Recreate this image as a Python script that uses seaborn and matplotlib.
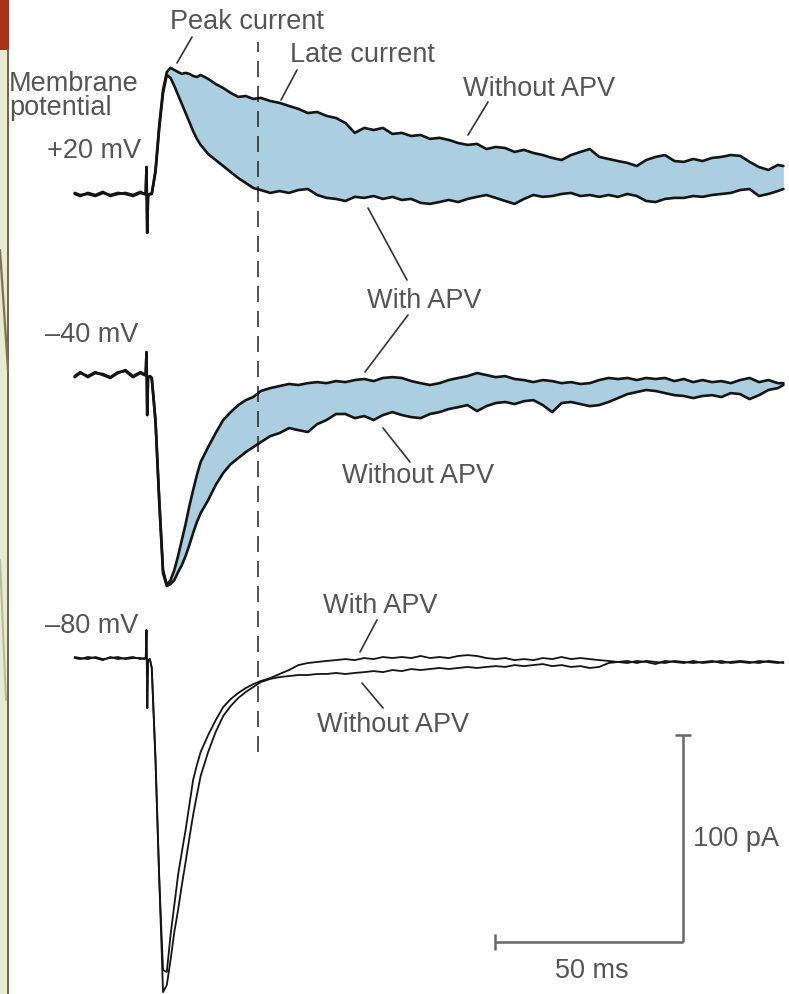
import numpy as np
import pandas as pd
import matplotlib
matplotlib.use("Agg")
import matplotlib.pyplot as plt
from matplotlib.patches import Rectangle
from matplotlib.lines import Line2D
import seaborn as sns

# ------------------------------------------------------------------ data
# time after the synaptic stimulus (ms)
TIME_MS = [-19.5, -18, -16, -14, -12, -10, -8, -6, -4, -2, -1, -0.6, -0.4, -0.2, 0, 0.5,
           1, 2, 3, 4, 5, 6, 7, 8, 9, 10, 11, 12, 13, 14, 16, 18, 20, 22, 24, 26, 28, 30,
           32.5, 35, 37.5, 40, 42.5, 45, 47.5, 50, 52.5, 55, 57.5, 60, 62.5, 65, 67.5, 70,
           72.5, 75, 77.5, 80, 82.5, 85, 87.5, 90, 92.5, 95, 97.5, 100, 102.5, 105, 107.5,
           110, 112.5, 115, 117.5, 120, 122.5, 125, 127.5, 130, 132.5, 135, 137.5, 140,
           142.5, 145, 147.5, 150, 152.5, 155, 157.5, 160, 162.5, 165, 167.5, 169]

# synaptic current relative to the holding baseline (pA)
PLUS20_WITHOUT_APV = [0, -1.0, 0.5, -0.5, 1.0, -1.0, 0, 0.5, -0.5, 1.0, 0, 0, 13.0, -18.8, -1.0, 0,
    0, 11.6, 33.3, 50.2, 58.9, 60.9, 59.9, 58.9, 58.0, 58.5, 58.0, 57.0, 56.5, 57.5, 55.6, 53.1,
    51.2, 48.8, 46.9, 47.3, 45.9, 46.4,
    44.9, 44.0, 42.5, 41.1, 39.1, 39.6, 37.7, 36.7, 34.3, 29.5, 31.9, 30.9, 31.9, 29.0, 29.5, 28.0,
    28.5, 26.6, 27.1, 26.1, 24.6, 23.7, 24.2, 21.7, 22.7, 22.2, 20.3, 21.3, 19.8, 18.8, 17.4, 16.4,
    18.8, 20.3, 21.7, 17.9, 16.9, 15.9, 15.0, 13.5, 16.4, 17.9, 18.8, 15.9, 15.5, 16.9, 15.9, 17.4,
    17.9, 18.8, 18.4, 15.5, 13.0, 11.6, 14.0, 13.5]
PLUS20_WITH_APV = [0.5, -0.5, 0, -1.0, 0.5, -0.5, 0.5, 0, -1.0, 0.5, 0, 0, 13.0, -18.8, -1.0, 0,
    0, 10.6, 31.9, 48.8, 57.5, 56.0, 52.2, 47.8, 43.5, 39.1, 34.8, 30.4, 26.6, 23.7, 19.3, 16.4,
    13.5, 10.6, 7.7, 5.3, 2.9, 1.9,
    0.5, 1.4, 0.5, 1.9, 2.4, -0.5, -1.9, -2.4, -3.4, -1.4, -1.9, -1.0, -2.4, -1.4, -2.9, -2.4,
    -4.3, -4.8, -3.9, -2.9, -3.9, -2.4, -1.4, -0.5, -1.9, -3.4, -4.8, -2.4, -0.5, -1.4, -1.0, 0,
    0.5, -1.0, -0.5, -1.4, -0.5, -1.4, 0, -1.0, -3.4, -3.9, -2.4, -1.9, -1.9, -1.0, -1.4, -0.5,
    0, 0.5, 1.9, 2.4, -1.0, 0, 1.4, 2.4]
MINUS40_WITH_APV = [-1.0, 1.0, -0.5, 1.4, 0, -1.4, 1.0, 2.4, -0.5, 1.4, 0.5, 0, 11.1, -19.3, -1.4, -0.5,
    -1.4, -21.7, -60.4, -94.2, -101.4, -99.0, -94.2, -87.4, -79.7, -72.0, -63.3, -55.6, -48.3,
    -42.0, -34.8, -28.0, -21.7, -17.9, -14.5, -12.1, -10.6, -7.7,
    -6.3, -5.3, -4.3, -4.8, -3.9, -3.4, -3.9, -2.9, -3.4, -2.4, -1.9, -2.9, -1.4, -1.0, -1.4, -2.9,
    -3.9, -4.8, -3.9, -2.4, -1.4, -0.5, 1.0, 0, -1.0, -0.5, -1.9, -2.4, -3.4, -2.4, -2.9, -3.9,
    -3.4, -4.3, -3.9, -2.4, -1.4, -1.9, -1.4, -2.4, -1.4, -1.9, -1.4, -2.9, -1.9, -3.4, -2.4, -3.4,
    -2.9, -3.9, -2.4, -1.4, -3.4, -2.4, -3.9, -3.9]
MINUS40_WITHOUT_APV = [-0.5, 1.4, -1.0, 1.0, 0.5, -1.0, 1.4, 1.9, -1.0, 1.0, 0, 0, 11.1, -19.3, -1.4, -0.5,
    -1.4, -22.7, -61.8, -95.7, -101.9, -101.0, -99.0, -95.2, -91.8, -87.4, -82.1, -76.3, -71.0,
    -66.7, -60.4, -53.1, -47.3, -43.0, -40.1, -37.2, -34.8, -32.4,
    -29.5, -28.0, -25.6, -26.6, -27.5, -23.7, -21.7, -18.8, -18.8, -20.8, -19.8, -21.7, -19.3,
    -17.9, -19.3, -20.3, -20.8, -18.8, -17.9, -16.4, -15.5, -14.5, -17.4, -15.0, -13.5, -13.0,
    -14.0, -12.6, -12.1, -14.5, -17.9, -13.5, -13.0, -14.0, -15.0, -14.5, -13.0, -11.1, -9.2,
    -8.2, -7.2, -7.7, -8.7, -9.7, -10.1, -11.1, -10.1, -9.7, -10.6, -8.7, -9.2, -11.6, -9.7,
    -7.2, -6.3, -4.8]
MINUS80_WITH_APV = [0, -0.5, 0.5, 0, -1.0, 0.5, -0.5, 0, 0.5, -0.5, 0, 0, 13.5, -24.2, -1.0, -0.5,
    -4.8, -49.3, -107.2, -150.7, -151.7, -133.8, -119.3, -104.8, -93.7, -83.1, -71.0, -58.9, -51.7,
    -45.4, -37.2, -30.0, -23.7, -19.8, -16.9, -14.5, -12.6, -11.1,
    -9.7, -7.7, -5.8, -3.4, -2.4, -1.9, -1.4, -1.0, -0.5, -1.0, 0, -0.5, 0.5, 0, 0.5, 0,
    1.0, 0, 0.5, 0, 1.0, 1.4, 1.0, 0, -0.5, 0, -1.0, -0.5, -1.0, 0, -0.5, 0.5,
    -0.5, 0, -0.5, -1.0, -1.4, -1.9, -2.4, -1.4, -1.9, -2.9, -1.4, -1.9, -2.4, -1.4, -2.4, -1.9,
    -1.4, -2.4, -1.9, -2.4, -1.4, -1.9, -2.4, -1.9]
MINUS80_WITHOUT_APV = [0.5, 0, -0.5, 0.5, -0.5, 0, 0.5, -0.5, 0, 0, -0.5, 0, 13.5, -24.2, -1.0, -0.5,
    -4.8, -49.3, -107.2, -161.4, -158.0, -145.9, -132.4, -121.7, -109.7, -98.6, -87.0, -75.8,
    -66.2, -57.0, -45.4, -35.7, -28.0, -23.2, -19.3, -16.4, -14.0, -11.6,
    -10.1, -9.2, -8.7, -8.2, -8.2, -7.7, -7.7, -7.2, -7.7, -7.2, -6.8, -6.3, -6.8, -5.8, -6.3,
    -5.3, -5.8, -5.3, -4.8, -5.3, -4.8, -4.3, -4.8, -4.3, -3.9, -4.3, -3.4, -3.9, -3.4, -2.9,
    -3.9, -3.4, -4.3, -3.9, -4.8, -4.3, -2.4, -1.9, -1.4, -2.4, -1.4, -1.9, -2.4, -1.4, -1.9,
    -2.4, -1.9, -1.4, -2.4, -1.9, -1.4, -1.9, -2.4, -1.4, -1.9, -2.4]

HOLDING_LABELS = ["+20 mV", "\u201340 mV", "\u201380 mV"]
CONDITIONS = ["Without APV", "With APV"]
LATE_CURRENT_TIME_MS = 29.3
SCALE_TIME_MS = 50
SCALE_CURRENT_PA = 100

# ------------------------------------------------------------------ layout / style
W, H = 789, 994
ROW_OFFSET = {HOLDING_LABELS[0]: 224.2, HOLDING_LABELS[1]: 136.7, HOLDING_LABELS[2]: 0.0}
XLIM = (-39.36, 170.48)
YLIM = (-162.3, 317.9)
FILL = "#abcfe0"
TRACE = "#141414"
TEXT = "#555555"

series = [
    (HOLDING_LABELS[0], "Without APV", PLUS20_WITHOUT_APV),
    (HOLDING_LABELS[0], "With APV", PLUS20_WITH_APV),
    (HOLDING_LABELS[1], "With APV", MINUS40_WITH_APV),
    (HOLDING_LABELS[1], "Without APV", MINUS40_WITHOUT_APV),
    (HOLDING_LABELS[2], "With APV", MINUS80_WITH_APV),
    (HOLDING_LABELS[2], "Without APV", MINUS80_WITHOUT_APV),
]
recs = []
for hold, cond, vals in series:
    assert len(vals) == len(TIME_MS), (hold, cond, len(vals))
    for t, v in zip(TIME_MS, vals):
        recs.append({"holding": hold, "condition": cond, "time_ms": t, "current_pA": v})
df = pd.DataFrame(recs)
df["stacked"] = df["current_pA"] + df["holding"].map(ROW_OFFSET)

sns.set_theme(style="white")
plt.rcParams["font.family"] = ["Liberation Sans", "DejaVu Sans"]
plt.rcParams["lines.scale_dashes"] = False

fig = plt.figure(figsize=(W / 100, H / 100), dpi=100)
ax = fig.add_axes([0, 0, 1, 1])
ax.set_xlim(*XLIM)
ax.set_ylim(*YLIM)
ax.set_axis_off()

# shaded NMDA component (difference with / without APV)
for hold in HOLDING_LABELS[:2]:
    sub = df[df["holding"] == hold].pivot(index="time_ms", columns="condition", values="stacked")
    t = sub.index.values
    ax.fill_between(t, sub["Without APV"].values, sub["With APV"].values,
                    where=t >= 4, interpolate=True, color=FILL, lw=0, zorder=1)

# traces
for (hold, cond), g in df.groupby(["holding", "condition"], sort=False):
    lw = 1.3 if hold == HOLDING_LABELS[2] else 1.9
    sns.lineplot(data=g, x="time_ms", y="stacked", estimator=None, sort=False,
                 color=TRACE, linewidth=lw, ax=ax, legend=False, zorder=3,
                 solid_joinstyle="round")
ax.set_xlim(*XLIM)
ax.set_ylim(*YLIM)
ax.set_axis_off()

# dashed line marking the late current
ax.axvline(LATE_CURRENT_TIME_MS, ymin=1 - 752 / H, ymax=1 - 42 / H, color="#222222",
           lw=1.1, dashes=(11.5, 6.5), zorder=2)

# scale bar
corner_t, corner_i = 142.3, -137.2
ax.plot([corner_t - SCALE_TIME_MS, corner_t], [corner_i, corner_i], color="#666666",
        lw=1.8, marker="|", markevery=[0], markersize=11, mew=1.8, solid_capstyle="butt")
ax.plot([corner_t, corner_t], [corner_i, corner_i + SCALE_CURRENT_PA], color="#666666",
        lw=1.8, marker="_", markevery=[1], markersize=12, mew=1.8, solid_capstyle="butt")


def fpx(x, y):
    return (x / W, 1 - y / H)


# labels (left x, baseline y in pixels)
labels = [
    ("Peak current", 170, 29, "left"),
    ("Late current", 290, 62, "left"),
    ("Without APV", 463, 96, "left"),
    ("Membrane", 9, 91, "left"),
    ("potential", 9, 115, "left"),
    (HOLDING_LABELS[0], 141, 158, "right"),
    (HOLDING_LABELS[1], 138, 342, "right"),
    (HOLDING_LABELS[2], 138, 633, "right"),
    ("With APV", 367, 308, "left"),
    ("Without APV", 342, 483, "left"),
    ("With APV", 323, 613, "left"),
    ("Without APV", 317, 732, "left"),
    ("100 pA", 693, 846, "left"),
    ("50 ms", 555, 978, "left"),
]
for s, x, y, ha in labels:
    fx, fy = fpx(x, y)
    fig.text(fx, fy, s, ha=ha, va="baseline", fontsize=19.5, color=TEXT)

# pointer lines
pointers = [
    ((192, 37), (177, 63)),
    ((297, 70), (281, 100)),
    ((488, 102), (468, 135)),
    ((407, 280), (368, 208)),
    ((408, 315), (365, 372)),
    ((383, 428), (410, 462)),
    ((377, 620), (360, 652)),
    ((362, 683), (383, 708)),
]
for (x0, y0), (x1, y1) in pointers:
    a, b = fpx(x0, y0), fpx(x1, y1)
    fig.add_artist(Line2D([a[0], b[0]], [a[1], b[1]], transform=fig.transFigure,
                          color="#333333", lw=1.2))

# slide decoration on the left edge
fig.add_artist(Rectangle(fpx(0, 994), 8.5 / W, (994 - 50) / H, transform=fig.transFigure,
                         color="#e7ebd2", lw=0, zorder=0))
fig.add_artist(Rectangle(fpx(0, 50), 8.5 / W, 50 / H, transform=fig.transFigure,
                         color="#a8321a", lw=0, zorder=0))
for (x0, y0), (x1, y1), c, lw in [((8, 50), (8, 994), "#6e6848", 1.4),
                                  ((0, 250), (8, 370), "#7a7452", 1.6),
                                  ((0, 560), (6, 700), "#b9b99a", 1.4)]:
    a, b = fpx(x0, y0), fpx(x1, y1)
    fig.add_artist(Line2D([a[0], b[0]], [a[1], b[1]], transform=fig.transFigure,
                          color=c, lw=lw))

fig.savefig("out.png", dpi=100, facecolor="white")
